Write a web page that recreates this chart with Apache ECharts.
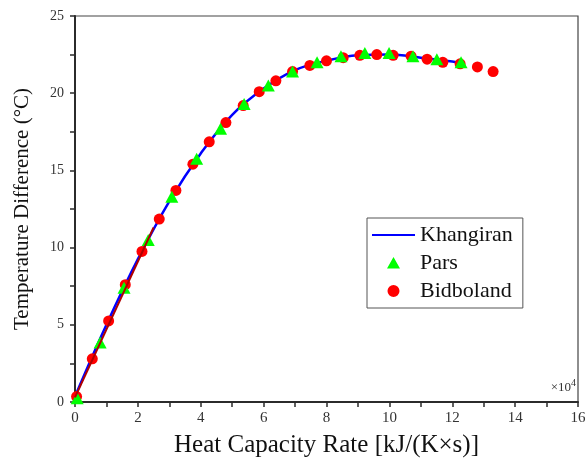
<!DOCTYPE html>
<html>
<head>
<meta charset="utf-8">
<script src="https://cdn.jsdelivr.net/npm/echarts@6/dist/echarts.min.js"></script>
<style>
  html, body { margin: 0; padding: 0; background: #fff; }
  #chart { width: 587px; height: 460px; }
</style>
</head>
<body>
<div id="chart"></div>
<script>
// Heat capacity rate (x 10^4 kJ/(K·s)) vs. temperature difference (°C)
const khangiranX = [0, 1, 2, 3, 4, 5, 6, 7, 8, 9, 10, 11, 12, 12.3];
const khangiranY = [0.35, 5.0, 9.25, 13.0, 16.1, 18.6, 20.3, 21.5, 22.1, 22.45, 22.5, 22.3, 22.05, 21.95];

const parsX = [0.07, 0.8, 1.56, 2.33, 3.08, 3.87, 4.63, 5.38, 6.15, 6.92, 7.7, 8.46, 9.22, 9.99, 10.75, 11.51, 12.28];
const parsY = [0.25, 3.85, 7.4, 10.5, 13.3, 15.75, 17.7, 19.3, 20.5, 21.4, 22.0, 22.4, 22.6, 22.6, 22.4, 22.2, 22.0];

const bidbolandX = [0.05, 0.55, 1.07, 1.6, 2.13, 2.68, 3.21, 3.75, 4.27, 4.8, 5.35, 5.86, 6.39, 6.92, 7.47, 8.0, 8.53, 9.06, 9.6, 10.12, 10.69, 11.2, 11.7, 12.25, 12.8, 13.3];
const bidbolandY = [0.35, 2.8, 5.25, 7.6, 9.75, 11.85, 13.7, 15.4, 16.85, 18.1, 19.2, 20.1, 20.8, 21.4, 21.8, 22.1, 22.3, 22.45, 22.5, 22.45, 22.4, 22.2, 22.0, 21.9, 21.7, 21.4];

// Short straight reference segment over the low-flow region
const segmentX = [0, 2.5];
const segmentY = [0.3, 11.3];

const xTicks = { min: 0, max: 16, interval: 2 };
const yTicks = { min: 0, max: 25, interval: 5 };

const pairs = (xs, ys) => xs.map((x, i) => [x, ys[i]]);

const serif = 'Liberation Serif, Times New Roman, serif';
const axisColor = '#2b2b2b';

// Legend icons drawn inside a fixed 43x14 box (tiny corner dots pin the box size)
const boxPins = 'M0,0 L0.01,0 L0,0.01 Z M43,14 L42.99,14 L43,13.99 Z ';
const lineIcon = 'path://' + boxPins + 'M0,6 L43,6 L43,8 L0,8 Z';
const triIcon = 'path://' + boxPins + 'M15,12.5 L21.5,1 L28,12.5 Z';
const dotIcon = 'path://' + boxPins + 'M15.5,7 A6,6 0 1,1 27.5,7 A6,6 0 1,1 15.5,7 Z';

const chart = echarts.init(document.getElementById('chart'), null, { renderer: 'canvas' });

chart.setOption({
  backgroundColor: '#ffffff',
  animation: false,
  grid: {
    left: 75, right: 9, top: 16, bottom: 58,
    outerBoundsMode: 'none',
    containLabel: false,
    show: true, borderColor: '#444', borderWidth: 1.2, backgroundColor: 'transparent'
  },
  legend: {
    orient: 'vertical',
    left: 367, top: 218,
    padding: [6, 10, 6, 5],
    itemGap: 6,
    itemWidth: 43, itemHeight: 14,
    borderColor: '#555', borderWidth: 1,
    backgroundColor: '#fff',
    textStyle: { fontFamily: serif, fontSize: 22, color: '#111' },
    data: [
      { name: 'Khangiran', icon: lineIcon },
      { name: 'Pars', icon: triIcon },
      { name: 'Bidboland', icon: dotIcon }
    ]
  },
  xAxis: {
    type: 'value',
    min: xTicks.min, max: xTicks.max, interval: xTicks.interval,
    name: 'Heat Capacity Rate [kJ/(K\u00d7s)]',
    nameLocation: 'middle', nameGap: 31,
    nameTextStyle: { fontFamily: serif, fontSize: 25, color: '#111' },
    axisLine: { show: true, lineStyle: { color: axisColor, width: 2 } },
    axisTick: { show: true, inside: false, length: 5, lineStyle: { color: axisColor, width: 1.5 } },
    minorTick: { show: true, splitNumber: 2, length: 5, lineStyle: { color: axisColor, width: 1.5 } },
    axisLabel: { fontFamily: serif, fontSize: 15, color: '#333', margin: 9 },
    splitLine: { show: false }
  },
  yAxis: {
    type: 'value',
    min: yTicks.min, max: yTicks.max, interval: yTicks.interval,
    name: 'Temperature Difference (\u00b0C)',
    nameLocation: 'middle', nameGap: 42, nameRotate: 90,
    nameTextStyle: { fontFamily: serif, fontSize: 21, color: '#111' },
    axisLine: { show: true, lineStyle: { color: axisColor, width: 2 } },
    axisTick: { show: true, inside: false, length: 5, lineStyle: { color: axisColor, width: 1.5 } },
    minorTick: { show: true, splitNumber: 2, length: 5, lineStyle: { color: axisColor, width: 1.5 } },
    axisLabel: { fontFamily: serif, fontSize: 14, color: '#333', margin: 11 },
    splitLine: { show: false }
  },
  graphic: [{
    type: 'text',
    right: 11, bottom: 66,
    style: {
      text: '\u00d710{s|4}',
      font: '13px ' + serif,
      fill: '#333',
      rich: { s: { fontSize: 10, verticalAlign: 'top', padding: [0, 0, 8, 0], fontFamily: serif, fill: '#333' } }
    }
  }],
  series: [
    {
      name: 'Khangiran',
      type: 'line',
      data: pairs(khangiranX, khangiranY),
      smooth: 0.4,
      showSymbol: false,
      symbol: 'none',
      lineStyle: { color: '#0000ff', width: 2.5 },
      itemStyle: { color: '#0000ff' },
      z: 2
    },
    {
      name: 'Bidboland',
      type: 'scatter',
      data: pairs(bidbolandX, bidbolandY),
      symbol: 'circle',
      symbolSize: 11,
      itemStyle: { color: '#ff0000', opacity: 1 },
      z: 3
    },
    {
      name: 'Pars',
      type: 'scatter',
      data: pairs(parsX, parsY),
      symbol: 'triangle',
      symbolSize: [13, 12],
      itemStyle: { color: '#00ff00', opacity: 1 },
      z: 4
    },
    {
      name: 'segment',
      type: 'line',
      data: pairs(segmentX, segmentY),
      showSymbol: false,
      symbol: 'none',
      lineStyle: { color: '#b00000', width: 2 },
      z: 5,
      silent: true
    }
  ]
});
</script>
</body>
</html>
